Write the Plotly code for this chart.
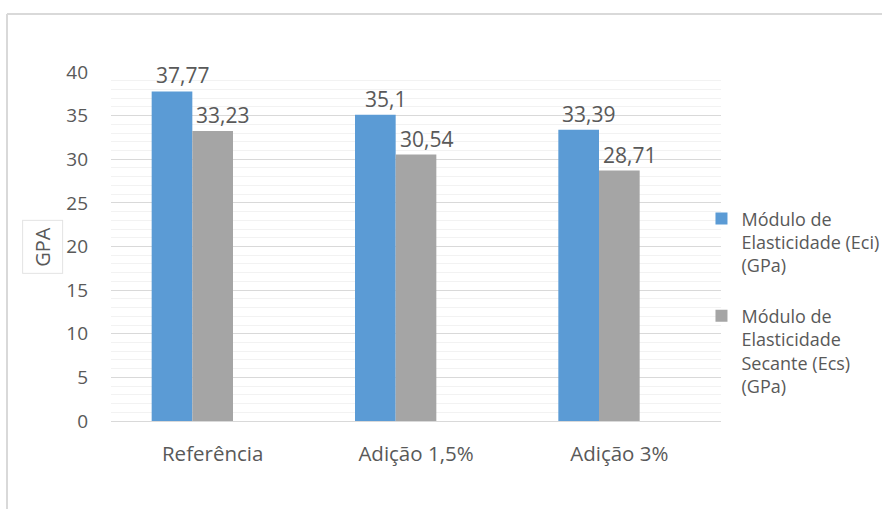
import plotly.graph_objects as go

categories = ["Referência", "Adição 1,5%", "Adição 3%"]
eci_values = [37.77, 35.1, 33.39]
ecs_values = [33.23, 30.54, 28.71]
series_names = [
    "Módulo de<br>Elasticidade (Eci)<br>(GPa)",
    "Módulo de<br>Elasticidade<br>Secante (Ecs)<br>(GPa)",
]
y_ticks = [0, 5, 10, 15, 20, 25, 30, 35, 40]

FONT = "Open Sans, Noto Sans, sans-serif"
TEXT = "#595959"
BAR_W = 0.2
OFFSETS = [-0.3, -0.1]
COLORS = ["#5B9BD5", "#A5A5A5"]

fig = go.Figure()
for k, (vals, name) in enumerate(zip([eci_values, ecs_values], series_names)):
    fig.add_trace(go.Bar(
        x=categories, y=vals, name=name, legendgroup=f"g{k}",
        marker=dict(color=COLORS[k], line=dict(width=0)),
        width=BAR_W, offset=OFFSETS[k],
    ))
    # value labels above each bar (decimal comma), nudged right as in the sheet
    for i, v in enumerate(vals):
        fig.add_annotation(
            x=i + OFFSETS[k] + BAR_W / 2, y=v, xref="x", yref="y",
            text=f"{v:g}".replace(".", ","), showarrow=False,
            xanchor="center", yanchor="bottom", xshift=10, yshift=0,
            font=dict(size=21, color=TEXT, family=FONT),
        )

# chart frame (top and left edges)
fig.add_shape(type="line", xref="paper", yref="paper",
              x0=-0.1705, x1=1.3, y0=1.1662, y1=1.1662,
              line=dict(color="#D9D9D9", width=2))
fig.add_shape(type="line", xref="paper", yref="paper",
              x0=-0.1705, x1=-0.1705, y0=1.1662, y1=-0.3,
              line=dict(color="#D9D9D9", width=2))

# boxed y-axis title
fig.add_annotation(text="GPA", xref="paper", yref="paper",
                   x=-0.1115, y=0.499, xanchor="center", yanchor="middle",
                   textangle=-90, showarrow=False,
                   font=dict(size=20, color=TEXT, family=FONT),
                   bordercolor="#E3E3E3", borderwidth=1, borderpad=6)

fig.update_layout(
    width=882, height=509,
    margin=dict(l=111, r=161, t=72, b=88, autoexpand=False),
    paper_bgcolor="white", plot_bgcolor="white",
    separators=",.",
    barmode="group",
    font=dict(family=FONT, color=TEXT),
    showlegend=True,
    legend=dict(
        x=0.968, y=0.34, xanchor="left", yanchor="middle", valign="top",
        font=dict(size=18, color=TEXT, family=FONT),
        itemwidth=30, tracegroupgap=24,
        bgcolor="rgba(0,0,0,0)",
    ),
    xaxis=dict(
        showgrid=False, showline=True, linecolor="#D9D9D9", linewidth=1,
        ticks="", tickfont=dict(size=20.5, color=TEXT, family=FONT),
        ticklabelstandoff=14,
        range=[-0.5, 2.5],
    ),
    yaxis=dict(
        range=[0, 40], tickvals=y_ticks, showgrid=True,
        gridcolor="#D9D9D9", gridwidth=1, zeroline=False,
        tickfont=dict(size=19, color=TEXT, family=FONT), ticks="",
        ticklabelstandoff=22,
        minor=dict(dtick=1, showgrid=True, gridcolor="#F2F2F2", gridwidth=1),
    ),
)

fig.write_html("out.html")
